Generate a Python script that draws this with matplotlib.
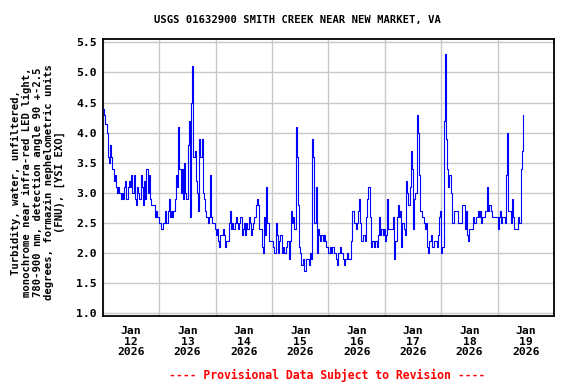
import matplotlib
matplotlib.use('Agg')
import matplotlib.pyplot as plt
import matplotlib.dates as mdates
import pandas as pd

# Turbidity (FNU), half-hourly
start = '2026-01-11 12:00'
fnu_jan11 = [4.4, 4.3, 4.15, 4.0, 3.6, 3.5, 3.8, 3.6, 3.4, 3.2, 3.3, 3.1,
             3.0, 3.1, 3.0, 2.9, 3.0, 2.9, 3.1, 3.2, 2.9, 3.1, 3.2, 3.1]
fnu_jan12 = [3.3, 3.0, 3.3, 2.9, 2.8, 3.1, 3.0, 2.9, 3.3, 3.1, 2.8, 3.2,
             2.9, 3.4, 3.0, 3.3, 2.9, 2.8, 2.8, 2.8, 2.6, 2.7, 2.6, 2.6,
             2.5, 2.4, 2.4, 2.5, 2.5, 2.7, 2.5, 2.7, 2.9, 2.6, 2.7, 2.6,
             2.7, 2.9, 3.3, 3.1, 4.1, 3.4, 3.0, 3.4, 2.9, 3.5, 3.0, 2.9]
fnu_jan13 = [3.8, 4.2, 2.6, 4.5, 5.1, 3.6, 3.7, 3.2, 3.0, 2.7, 3.9, 3.6,
             3.9, 3.0, 2.9, 2.7, 2.6, 2.5, 2.6, 3.3, 2.6, 2.5, 2.5, 2.4,
             2.3, 2.4, 2.2, 2.1, 2.3, 2.3, 2.4, 2.3, 2.1, 2.2, 2.2, 2.5,
             2.7, 2.4, 2.5, 2.4, 2.5, 2.6, 2.5, 2.4, 2.5, 2.6, 2.3, 2.4]
fnu_jan14 = [2.5, 2.3, 2.5, 2.4, 2.6, 2.5, 2.3, 2.4, 2.5, 2.6, 2.8, 2.9,
             2.8, 2.4, 2.4, 2.1, 2.0, 2.6, 2.3, 3.1, 2.5, 2.2, 2.2, 2.2,
             2.2, 2.1, 2.0, 2.5, 2.3, 2.0, 2.2, 2.3, 2.0, 2.1, 2.0, 2.0,
             2.1, 2.2, 1.9, 2.2, 2.7, 2.5, 2.6, 2.4, 4.1, 3.6, 2.8, 2.1]
fnu_jan15 = [2.0, 1.8, 1.9, 1.7, 1.7, 1.9, 1.9, 1.8, 2.0, 1.9, 3.9, 3.6,
             2.5, 3.1, 2.0, 2.4, 2.3, 2.2, 2.3, 2.2, 2.3, 2.2, 2.1, 2.1,
             2.0, 2.1, 2.0, 2.1, 2.1, 2.0, 1.9, 1.8, 2.0, 2.0, 2.1, 2.0,
             1.9, 1.8, 1.9, 1.9, 2.0, 1.9, 1.9, 2.2, 2.7, 2.7, 2.5, 2.4]
fnu_jan16 = [2.5, 2.7, 2.9, 2.5, 2.2, 2.3, 2.3, 2.2, 2.6, 2.9, 3.1, 2.6,
             2.1, 2.2, 2.2, 2.1, 2.2, 2.1, 2.3, 2.6, 2.3, 2.4, 2.3, 2.4,
             2.2, 2.3, 2.9, 2.4, 2.4, 2.4, 2.4, 2.6, 1.9, 2.2, 2.6, 2.8,
             2.6, 2.7, 2.1, 2.5, 2.4, 2.3, 3.2, 3.0, 2.8, 3.1, 3.7, 3.4]
fnu_jan17 = [2.4, 2.9, 3.0, 4.3, 4.0, 3.3, 2.7, 2.7, 2.6, 2.5, 2.4, 2.5,
             2.1, 2.0, 2.2, 2.3, 2.1, 2.1, 2.2, 2.2, 2.1, 2.3, 2.6, 2.7,
             2.0, 2.1, 4.2, 5.3, 3.9, 3.4, 3.1, 3.3, 3.0, 2.5, 2.5, 2.7,
             2.7, 2.7, 2.5, 2.5, 2.5, 2.5, 2.8, 2.8, 2.4, 2.7, 2.3, 2.2]
fnu_jan18 = [2.4, 2.4, 2.4, 2.6, 2.5, 2.5, 2.6, 2.7, 2.6, 2.7, 2.5, 2.6,
             2.6, 2.7, 2.7, 3.1, 2.7, 2.8, 2.7, 2.6, 2.6, 2.6, 2.6, 2.6,
             2.4, 2.6, 2.7, 2.5, 2.6, 2.6, 2.5, 3.3, 4.0, 2.7, 2.7, 2.5,
             2.9, 2.6, 2.4, 2.4, 2.4, 2.6, 2.5, 2.5, 3.4, 3.7, 4.3]

fnu = (fnu_jan11 + fnu_jan12 + fnu_jan13 + fnu_jan14 + fnu_jan15
       + fnu_jan16 + fnu_jan17 + fnu_jan18)
times = pd.date_range(start, periods=len(fnu), freq='30min')

title = 'USGS 01632900 SMITH CREEK NEAR NEW MARKET, VA'
ylabel = ('Turbidity, water, unfiltered,\n'
          'monochrome near infra-red LED light,\n'
          '780-900 nm, detection angle 90 +-2.5\n'
          'degrees, formazin nephelometric units\n'
          '(FNU), [YSI EXO]')
footer = '---- Provisional Data Subject to Revision ----'
yticks = [1.0, 1.5, 2.0, 2.5, 3.0, 3.5, 4.0, 4.5, 5.0, 5.5]

plt.rcParams['font.family'] = 'DejaVu Sans Mono'
plt.rcParams['font.weight'] = 'bold'

fig = plt.figure(figsize=(5.76, 3.84), dpi=100)
ax = fig.add_axes([0.1788, 0.177, 0.783, 0.7214])

ax.plot(times, fnu, color='#0000ff', lw=0.8, drawstyle='steps-post', zorder=3)

ax.set_xlim(pd.Timestamp('2026-01-11 12:00'), pd.Timestamp('2026-01-19 12:00'))
ax.set_ylim(0.955, 5.556)

# labels at midnight, grid lines at noon
ax.xaxis.set_major_locator(mdates.DayLocator())
ax.xaxis.set_major_formatter(mdates.DateFormatter('%b\n%d\n%Y'))
ax.xaxis.set_minor_locator(mdates.HourLocator(byhour=[12]))
ax.grid(True, which='minor', axis='x', color='#c8c8c8', lw=1)
ax.set_yticks(yticks)
ax.yaxis.set_major_formatter(plt.FormatStrFormatter('%.1f'))
ax.grid(True, which='major', axis='y', color='#c8c8c8', lw=1)
ax.tick_params(which='both', length=0)
ax.tick_params(axis='y', labelsize=8.2, pad=4.5)
ax.tick_params(axis='x', labelsize=8.2, pad=7)
for lbl in ax.get_xticklabels():
    lbl.set_linespacing(1.1)
for s in ax.spines.values():
    s.set_linewidth(1.3)

fig.text(0.5165, 0.948, title, ha='center', va='center', fontsize=7.6, weight='bold')
fig.text(0.066, 0.525, ylabel, rotation=90, ha='center', va='center',
         multialignment='center', fontsize=7.6, weight='bold', linespacing=1.12)
fig.text(0.568, 0.023, footer, ha='center', va='center', fontsize=8.3,
         weight='bold', color='#ff0000')

plt.savefig('out.png', dpi=100)
